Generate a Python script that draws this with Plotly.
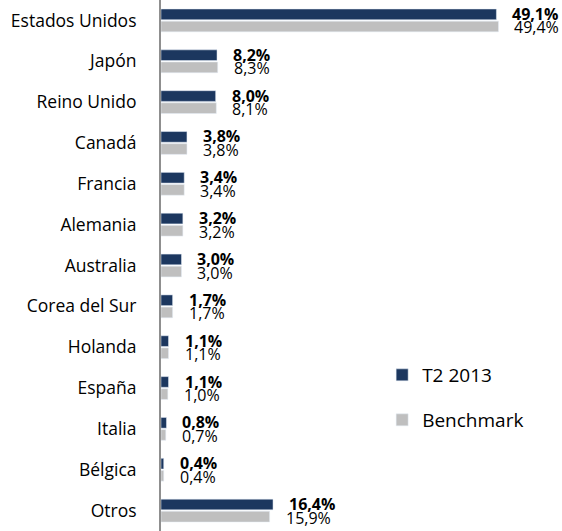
import plotly.graph_objects as go

categories = ["Estados Unidos", "Japón", "Reino Unido", "Canadá", "Francia", "Alemania",
              "Australia", "Corea del Sur", "Holanda", "España", "Italia", "Bélgica", "Otros"]
t2_2013 = [49.1, 8.2, 8.0, 3.8, 3.4, 3.2, 3.0, 1.7, 1.1, 1.1, 0.8, 0.4, 16.4]
benchmark = [49.4, 8.3, 8.1, 3.8, 3.4, 3.2, 3.0, 1.7, 1.1, 1.0, 0.7, 0.4, 15.9]
series_names = ["T2 2013", "Benchmark"]

NAVY = "#1C375F"
GRAY = "#BFBFBF"
FONT = "Open Sans"


def fmt(v):
    return f"{v:.1f}".replace(".", ",") + "%"


fig = go.Figure()
fig.add_trace(go.Bar(y=categories, x=t2_2013, orientation="h", name=series_names[0],
                     marker=dict(color=NAVY), legend="legend"))
fig.add_trace(go.Bar(y=categories, x=benchmark, orientation="h", name=series_names[1],
                     marker=dict(color=GRAY), legend="legend2"))

annotations = []
for c, a, b in zip(categories, t2_2013, benchmark):
    annotations.append(dict(x=a, y=c, xref="x", yref="y", text="<b>" + fmt(a) + "</b>",
                            showarrow=False, xanchor="left", yanchor="middle",
                            xshift=14, yshift=6.5,
                            font=dict(family=FONT, size=16, color="#000")))
    annotations.append(dict(x=b, y=c, xref="x", yref="y", text=fmt(b),
                            showarrow=False, xanchor="left", yanchor="middle",
                            xshift=14, yshift=-7,
                            font=dict(family=FONT, size=16, color="#000")))

fig.update_layout(
    width=562, height=531,
    margin=dict(l=161, r=0, t=0, b=0),
    paper_bgcolor="white", plot_bgcolor="white",
    barmode="group", bargap=0.405, bargroupgap=0.12,
    font=dict(family=FONT, color="#000"),
    annotations=annotations,
    xaxis=dict(range=[0, 58.7], visible=False, showgrid=False, zeroline=False),
    yaxis=dict(autorange="reversed", showline=True, linecolor="#8F8F8F", linewidth=2,
               ticks="", showgrid=False, zeroline=False, ticklabelstandoff=19,
               tickfont=dict(family=FONT, size=17.5, color="#000")),
    legend=dict(x=0.5515, y=1 - 375 / 531, xanchor="left", yanchor="middle",
                font=dict(family=FONT, size=19, color="#000"), bgcolor="rgba(0,0,0,0)"),
    legend2=dict(x=0.5515, y=1 - 420 / 531, xanchor="left", yanchor="middle",
                 font=dict(family=FONT, size=19, color="#000"), bgcolor="rgba(0,0,0,0)"),
    showlegend=True,
)

fig.write_html("out.html", config={"displayModeBar": False},
               post_script="document.body.style.margin='0';")
